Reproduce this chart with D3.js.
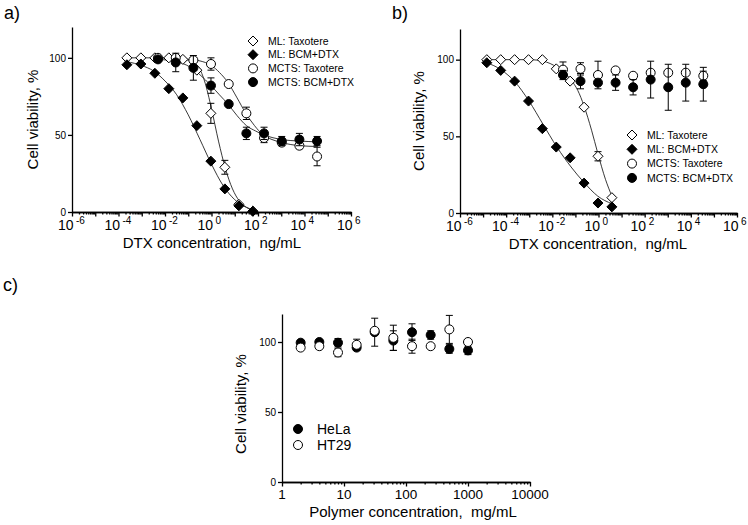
<!DOCTYPE html>
<html>
<head>
<meta charset="utf-8">
<script src="https://d3js.org/d3.v7.min.js"></script>
<style>
  body { margin: 0; background: #fff; }
  svg { font-family: "Liberation Sans", Arial, sans-serif; }
  svg text { white-space: pre; }
  .axis path, .axis line { stroke: #000; stroke-width: 1.3px; }
  .axis text { fill: #000; }
  .fit { fill: none; stroke: #222; stroke-width: 0.9px; }
  .err { stroke: #000; stroke-width: 1px; fill: none; }
</style>
</head>
<body>
<svg id="chart" width="748" height="525"></svg>
<script>
// ---------- panel a: DTX, ML and MCTS ----------
const aMlConc = [0.000229, 0.000916, 0.00366, 0.0146, 0.0586, 0.234, 0.938, 3.75, 15, 60];
const aMlTaxotere = [100, 100, 100, 100, 99, 92, 64, 29, 5, 0.5];
const aMlTaxotereErr = [0, 0, 0, 0, 0, 0, 6.5, 4.5, 0, 0];
const aMlBcm = [95.5, 96, 90, 80, 74, 56, 33, 15, 4, 0.5];
const aMctsConc = [0.005, 0.029, 0.166, 0.95, 5.5, 31.6, 182, 1050, 6030, 34700];
const aMctsTaxotere = [100, 100, 98.5, 96, 83, 64, 48, 45, 43, 36];
const aMctsTaxotereErr = [0, 0, 0, 4, 0, 4, 3, 0, 2, 6];
const aMctsBcm = [99, 97, 93.5, 82, 70, 51, 51, 46, 47, 46];
const aMctsBcmErr = [0, 6, 8, 5, 0, 4, 4, 3, 4, 3];

// fitted curves as [conc, viability]
const aFitMlTaxotere = [[2.3e-4,100],[0.01,100],[0.1,98.5],[0.25,95],[0.5,85],[1,67],[2,46],[4,28],[8,15],[16,7],[32,3],[60,1]];
const aFitMlBcm = [[2.3e-4,97.5],[1e-3,95],[3.2e-3,91.5],[0.01,85],[0.032,76],[0.1,63],[0.32,47],[1,31],[3.2,17],[10,8],[32,3],[60,1.5]];
const aFitMctsTaxotere = [[0.005,100],[0.1,99],[0.32,98],[1,95],[2.2,90.5],[5.1,84],[12.6,74],[30,64],[71,56],[166,50],[400,47],[1070,45],[6300,43],[38000,42.5]];
const aFitMctsBcm = [[0.005,99],[0.032,97.5],[0.12,94],[0.32,89],[0.95,82],[2.2,76],[5.1,70],[12.6,62.5],[32,56],[80,52.5],[182,50],[1070,47],[6300,46],[38000,45.5]];

// ---------- panel b ----------
const bMlConc = [1.45e-5, 5.8e-5, 2.32e-4, 9.3e-4, 3.7e-3, 0.0148, 0.059, 0.237, 0.95, 3.8];
const bMlTaxotere = [100, 100, 100, 100, 100, 94, 86, 69, 37, 10];
const bMlTaxotereErr = [0, 0, 0, 0, 0, 0, 0, 0, 3, 0];
const bMlBcm = [98, 93, 86, 73, 55, 43, 36, 19.5, 6.5, 4];
const bMctsConc = [0.029, 0.166, 0.95, 5.5, 31.6, 182, 1050, 6030, 34700];
const bMctsTaxotere = [93.5, 94, 90, 93, 89.5, 91.5, 91.5, 91.5, 89.5];
const bMctsTaxotereErr = [5, 4, 9, 0, 0, 0, 0, 0, 3];
const bMctsBcm = [90, 86, 85, 85, 82, 87, 82, 85, 84];
const bMctsBcmErr = [3, 5, 0, 5, 5, 12, 15, 12, 11];

const bFitMlTaxotere = [[1.45e-5,100],[1e-3,100],[4e-3,99],[0.016,95],[0.063,87],[0.126,80],[0.234,70],[0.5,54],[0.93,39],[2,22],[3.8,11]];
const bFitMlBcm = [[1.45e-5,98],[5.9e-5,93.5],[2.4e-4,85.5],[9.8e-4,73],[3.9e-3,58],[0.0158,43],[0.065,30],[0.234,20],[0.93,11],[3.8,6]];

// ---------- panel c ----------
const cConc = [2, 4, 8, 16, 31.25, 62.5, 125, 250, 500, 1000];
const cHela = [99.5, 100, 99.5, 96, 107, 101, 107, 105, 95, 94];
const cHelaErr = [0, 0, 3, 2, 10, 7, 6, 3, 3, 3];
const cHt29 = [96, 97, 92.5, 98, 108, 103, 97, 97, 109, 100];
const cHt29Err = [0, 2, 3, 4, 0, 9, 5, 0, 10, 0];

const dtxExponents = [-6, -4, -2, 0, 2, 4, 6];
const polymerTicks = [1, 10, 100, 1000, 10000];
const yTicks = [0, 50, 100];
const dtxLegend = ["ML: Taxotere", "ML: BCM+DTX", "MCTS: Taxotere", "MCTS: BCM+DTX"];
const polymerLegend = ["HeLa", "HT29"];

const svg = d3.select("#chart");

function drawAxes(x, y, o) {
  const g = svg.append("g");
  const y0 = y.range()[0];
  const x0 = x.range()[0];
  const [lo, hi] = x.domain();
  const decades = [], minor = [];
  for (let e = Math.round(Math.log10(lo)); e <= Math.round(Math.log10(hi)); e++) {
    decades.push(Math.pow(10, e));
    if (e < Math.round(Math.log10(hi))) for (let k = 2; k < 10; k++) minor.push(k * Math.pow(10, e));
  }
  g.append("g").attr("class", "axis").attr("transform", `translate(0,${y0})`)
    .call(d3.axisBottom(x).tickValues(minor).tickSize(2.5).tickSizeOuter(0).tickFormat(""));
  g.append("g").attr("class", "axis").attr("transform", `translate(0,${y0})`)
    .call(d3.axisBottom(x).tickValues(decades).tickSize(4.5).tickSizeOuter(0).tickFormat(""));
  g.append("g").attr("class", "axis").attr("transform", `translate(${x0},0)`)
    .attr("font-size", 14).attr("font-family", "Liberation Sans, Arial, sans-serif")
    .call(d3.axisLeft(y).tickValues(yTicks).tickSize(4).tickSizeOuter(0).tickPadding(2));

  // x tick labels: "10" plus a raised exponent, centred as a pair on the tick
  const lab = g.append("g").attr("font-size", 14);
  if (o.exponents) {
    o.exponents.forEach(e => {
      const tx = x(Math.pow(10, e));
      lab.append("text").attr("x", tx + 1.5).attr("y", y0 + 18).attr("text-anchor", "end").text("10");
      lab.append("text").attr("x", tx + 4).attr("y", y0 + 12).attr("font-size", 10).text(e);
    });
  } else {
    o.ticks.forEach(v => lab.append("text").attr("x", x(v)).attr("y", y0 + 16.5)
      .attr("font-size", 13.5).attr("text-anchor", "middle").text(v));
  }

  // titles
  g.append("text").attr("x", o.xTitleX).attr("y", y0 + o.xTitleDy)
    .attr("text-anchor", "middle").attr("font-size", 15).text(o.xTitle);
  const ym = (y.range()[0] + y.range()[1]) / 2;
  g.append("text").attr("transform", `translate(${o.yTitleX},${ym + o.yTitleShift}) rotate(-90)`)
    .attr("text-anchor", "middle").attr("font-size", 15).text("Cell viability, %");
}

const diamond = "M0,-5L5,0L0,5L-5,0Z";

function drawFit(x, y, pts) {
  const line = d3.line().x(d => x(d[0])).y(d => y(d[1])).curve(d3.curveMonotoneX);
  svg.append("path").attr("class", "fit").attr("d", line(pts));
}

function drawSeries(x, y, conc, vals, errs, shape, filled) {
  const g = svg.append("g");
  if (errs) {
    conc.forEach((c, i) => {
      if (!errs[i]) return;
      const cx = x(c), top = y(vals[i] + errs[i]), bot = y(vals[i] - errs[i]);
      g.append("path").attr("class", "err")
        .attr("d", `M${cx},${top}V${bot}M${cx - 3.5},${top}H${cx + 3.5}M${cx - 3.5},${bot}H${cx + 3.5}`);
    });
  }
  conc.forEach((c, i) => {
    const m = shape === "diamond"
      ? g.append("path").attr("d", diamond).attr("transform", `translate(${x(c)},${y(vals[i])})`)
      : g.append("circle").attr("cx", x(c)).attr("cy", y(vals[i])).attr("r", 4.5);
    m.attr("fill", filled ? "#000" : "#fff").attr("stroke", "#000").attr("stroke-width", 1);
  });
}

function drawLegend(x0, y0, step, names, shapes, fills, size) {
  names.forEach((n, i) => {
    const yy = y0 + i * step;
    const m = shapes[i] === "diamond"
      ? svg.append("path").attr("d", diamond).attr("transform", `translate(${x0},${yy})`)
      : svg.append("circle").attr("cx", x0).attr("cy", yy).attr("r", 4.5);
    m.attr("fill", fills[i] ? "#000" : "#fff").attr("stroke", "#000");
    svg.append("text").attr("x", x0 + (size > 12 ? 19 : 15)).attr("y", yy + size * 0.36)
      .attr("font-size", size).text(n);
  });
}

// panel labels
svg.append("text").attr("x", 4).attr("y", 19).attr("font-size", 18).text("a)");
svg.append("text").attr("x", 392).attr("y", 19).attr("font-size", 18).text("b)");
svg.append("text").attr("x", 3).attr("y", 291).attr("font-size", 18).text("c)");

// ---- a ----
const xa = d3.scaleLog().domain([1e-6, 1e6]).range([72, 351]);
const ya = d3.scaleLinear().domain([0, 120]).range([212, 27]);
drawAxes(xa, ya, { exponents: dtxExponents, xTitle: "DTX concentration,  ng/mL", xTitleX: 212, xTitleDy: 36, yTitleX: 38, yTitleShift: 0 });
[aFitMlTaxotere, aFitMlBcm, aFitMctsTaxotere, aFitMctsBcm].forEach(f => drawFit(xa, ya, f));
drawSeries(xa, ya, aMlConc, aMlTaxotere, aMlTaxotereErr, "diamond", false);
drawSeries(xa, ya, aMlConc, aMlBcm, null, "diamond", true);
drawSeries(xa, ya, aMctsConc, aMctsTaxotere, aMctsTaxotereErr, "circle", false);
drawSeries(xa, ya, aMctsConc, aMctsBcm, aMctsBcmErr, "circle", true);
drawLegend(253, 41, 13.7, dtxLegend, ["diamond", "diamond", "circle", "circle"], [0, 1, 0, 1], 10.5);

// ---- b ----
const xb = d3.scaleLog().domain([1e-6, 1e6]).range([460, 737]);
const yb = d3.scaleLinear().domain([0, 120]).range([213, 29]);
drawAxes(xb, yb, { exponents: dtxExponents, xTitle: "DTX concentration,  ng/mL", xTitleX: 598, xTitleDy: 36, yTitleX: 424, yTitleShift: 0 });
[bFitMlTaxotere, bFitMlBcm].forEach(f => drawFit(xb, yb, f));
drawSeries(xb, yb, bMlConc, bMlTaxotere, bMlTaxotereErr, "diamond", false);
drawSeries(xb, yb, bMlConc, bMlBcm, null, "diamond", true);
drawSeries(xb, yb, bMctsConc, bMctsTaxotere, bMctsTaxotereErr, "circle", false);
drawSeries(xb, yb, bMctsConc, bMctsBcm, bMctsBcmErr, "circle", true);
drawLegend(632, 135, 14.3, dtxLegend, ["diamond", "diamond", "circle", "circle"], [0, 1, 0, 1], 10.5);

// ---- c ----
const xc = d3.scaleLog().domain([1, 10000]).range([282, 530]);
const yc = d3.scaleLinear().domain([0, 120]).range([482, 314]);
drawAxes(xc, yc, { ticks: polymerTicks, xTitle: "Polymer concentration,  mg/mL", xTitleX: 413, xTitleDy: 34.5, yTitleX: 246, yTitleShift: 6 });
drawSeries(xc, yc, cConc, cHela, cHelaErr, "circle", true);
drawSeries(xc, yc, cConc, cHt29, cHt29Err, "circle", false);
drawLegend(298, 429, 16, polymerLegend, ["circle", "circle"], [1, 0], 14);
</script>
</body>
</html>
